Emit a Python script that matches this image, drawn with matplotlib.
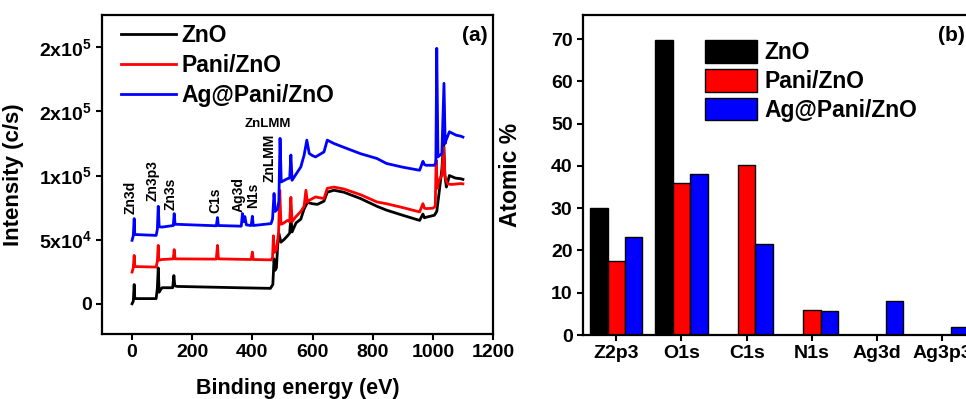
import numpy as np
import matplotlib
matplotlib.use("Agg")
import matplotlib.pyplot as plt
from matplotlib.ticker import FixedLocator, FixedFormatter

plt.rcParams['font.family'] = ['Liberation Sans', 'DejaVu Sans']
plt.rcParams['font.weight'] = 'bold'
plt.rcParams['mathtext.fontset'] = 'custom'
plt.rcParams['mathtext.rm'] = 'Liberation Sans:bold'
plt.rcParams['mathtext.bf'] = 'Liberation Sans:bold'
plt.rcParams['mathtext.it'] = 'Liberation Sans:bold:italic'

# ---- (a) XPS survey spectra ----
zno_ev = [0, 4, 7, 9, 12, 80, 84, 87, 90, 95, 100, 135, 139, 142, 150, 250, 350, 460,
          468, 472, 475, 480, 484, 488, 495, 505, 517, 524, 528, 532, 545, 561, 572,
          583, 600, 616, 638, 649, 671, 704, 760, 814, 846, 900, 956, 967, 972, 978,
          1005, 1013, 1020, 1030, 1036, 1040, 1045, 1055, 1075, 1093, 1100]
zno_counts = [0, 2000, 15000, 4000, 4000, 4000, 12000, 28000, 9000, 11000, 12500, 12500,
              22000, 14000, 13500, 13000, 12500, 12000, 15000, 35000, 26000, 28000,
              45000, 55000, 48000, 50000, 53000, 55000, 68000, 56000, 63000, 66000,
              74000, 79000, 78000, 77500, 80000, 87000, 88500, 87000, 82000, 76000,
              73000, 69000, 65000, 70000, 67000, 67500, 69000, 72000, 85000, 105000,
              127000, 100000, 91000, 100000, 98000, 97500, 97000]

pani_ev = [0, 4, 7, 9, 80, 84, 87, 89, 100, 137, 140, 143, 280, 284, 287, 396, 400, 403,
           462, 467, 470, 473, 480, 487, 491, 495, 501, 517, 524, 528, 532, 545, 561,
           572, 578, 583, 589, 610, 638, 649, 671, 704, 760, 814, 846, 900, 956, 967,
           972, 978, 1000, 1008, 1011, 1015, 1020, 1030, 1036, 1040, 1044, 1049, 1060,
           1093, 1100]
pani_counts = [24700, 28000, 37700, 29000, 28600, 33000, 45500, 34000, 34500, 35000,
               42200, 35000, 34800, 45500, 35000, 34500, 40300, 34500, 34200, 36000,
               53000, 40000, 42000, 55000, 88500, 62000, 62500, 65000, 64000, 83000,
               64000, 68000, 72000, 76000, 88500, 79000, 80700, 83300, 82000, 90000,
               91000, 89500, 85000, 79400, 78000, 75000, 71600, 78100, 74500, 74200,
               74500, 76000, 112000, 90000, 96000, 100000, 122000, 100000, 96300, 93700,
               93000, 93700, 93500]

ag_ev = [0, 4, 7, 9, 80, 84, 87, 90, 100, 137, 140, 143, 280, 284, 287, 363, 367, 371,
         375, 380, 396, 400, 403, 462, 467, 472, 476, 484, 488, 492, 496, 517, 524, 528,
         532, 545, 561, 572, 581, 589, 600, 610, 638, 649, 671, 704, 760, 814, 846, 900,
         956, 967, 972, 978, 1005, 1010, 1013, 1017, 1030, 1037, 1041, 1044, 1055, 1077,
         1093, 1100]
ag_counts = [49500, 53000, 66400, 54000, 53300, 58000, 76000, 60000, 59800, 61000, 70300,
             62000, 60800, 67200, 61000, 60500, 70300, 64000, 68000, 61500, 61000, 68200,
             61000, 62500, 66000, 86000, 72000, 74000, 80000, 129000, 95000, 97600,
             98000, 116000, 96300, 101000, 106700, 115900, 127600, 117200, 115500,
             114500, 118400, 127600, 125000, 122000, 117000, 113300, 109400, 106500,
             104100, 111100, 108500, 108000, 108000, 110000, 199200, 114500, 117200,
             171900, 125000, 127600, 134100, 131500, 130700, 130000]

peak_names = ['Zn3d', 'Zn3p3', 'Zn3s', 'C1s', 'Ag3d', 'N1s', 'ZnLMM']
peak_x = [-6, 67, 128, 276, 353, 404, 457]
peak_y = [83000, 95900, 85400, 80700, 85400, 84600, 113900]

y_tick_vals = [0, 50000, 100000, 150000, 200000]
y_tick_text = ['0', '5x$10^{4}$', '1x$10^{5}$', '2x$10^{5}$', '2x$10^{5}$']
x_tick_vals = [0, 200, 400, 600, 800, 1000, 1200]

# ---- (b) atomic percentages ----
elements = ['Z2p3', 'O1s', 'C1s', 'N1s', 'Ag3d', 'Ag3p3']
zno_atomic = [30.0, 69.9, 0, 0, 0, 0]
pani_atomic = [17.4, 36.0, 40.1, 6.0, 0, 0]
ag_atomic = [23.3, 38.2, 21.6, 5.7, 8.0, 2.0]

W, H = 966, 399
fig = plt.figure(figsize=(W / 100, H / 100), dpi=100)

def style_axes(ax):
    for s in ax.spines.values():
        s.set_linewidth(1.6)
    ax.tick_params(direction='out', length=4, width=1.5, labelsize=14)

# panel (a)
ax1 = fig.add_axes([102 / W, 1 - 334 / H, 391 / W, 319 / H])
ax1.plot(zno_ev, zno_counts, color='black', lw=2.0, label='ZnO')
ax1.plot(pani_ev, pani_counts, color='red', lw=2.0, label='Pani/ZnO')
ax1.plot(ag_ev, ag_counts, color='blue', lw=2.0, label='Ag@Pani/ZnO')
ax1.set_xlim(-100, 1190)
ax1.set_ylim(-23600, 225200)
ax1.yaxis.set_major_locator(FixedLocator(y_tick_vals))
ax1.yaxis.set_major_formatter(FixedFormatter(y_tick_text))
ax1.set_xticks(x_tick_vals)
style_axes(ax1)
ax1.set_xlabel('Binding energy (eV)', fontsize=15.5, fontweight='bold', labelpad=12)
ax1.set_ylabel('Intensity (c/s)', fontsize=16, fontweight='bold')
ax1.yaxis.set_label_coords(-0.2, 0.5)
for name, px, py in zip(peak_names, peak_x, peak_y):
    ax1.text(px, py, name, rotation=90, fontsize=10, fontweight='bold',
             ha='center', va='center')
ax1.text(452, 140000, 'ZnLMM', fontsize=9.5, fontweight='bold', ha='center', va='center')
ax1.text(0.985, 0.935, '(a)', transform=ax1.transAxes, fontsize=15, fontweight='bold',
         ha='right', va='center')
ax1.legend(loc='upper left', bbox_to_anchor=(0.025, 1.0), frameon=False,
           handlelength=2.4, handletextpad=0.25, labelspacing=0.3,
           borderaxespad=0.0, prop={'weight': 'bold', 'size': 16.5})

# panel (b)
ax2 = fig.add_axes([583 / W, 1 - 335 / H, 392 / W, 320 / H])
x = np.arange(len(elements))
bw = 0.267
ax2.bar(x - bw, zno_atomic, bw, color='black', edgecolor='black', lw=1, label='ZnO')
ax2.bar(x, pani_atomic, bw, color='red', edgecolor='black', lw=1, label='Pani/ZnO')
ax2.bar(x + bw, ag_atomic, bw, color='blue', edgecolor='black', lw=1, label='Ag@Pani/ZnO')
ax2.set_xlim(-0.51, 5.5)
ax2.set_ylim(0, 75.7)
ax2.set_xticks(x)
ax2.set_xticklabels(elements)
ax2.set_yticks(range(0, 71, 10))
style_axes(ax2)
ax2.set_ylabel('Atomic %', fontsize=16.5, fontweight='bold')
ax2.yaxis.set_label_coords(-0.155, 0.5)
ax2.text(0.975, 0.935, '(b)', transform=ax2.transAxes, fontsize=15, fontweight='bold',
         ha='right', va='center')
ax2.legend(loc='upper left', bbox_to_anchor=(0.287, 0.95), frameon=False,
           handlelength=2.3, handleheight=1.15, handletextpad=0.3, labelspacing=0.2,
           borderaxespad=0.0, prop={'weight': 'bold', 'size': 16.5})

fig.savefig('out.png', dpi=100)
